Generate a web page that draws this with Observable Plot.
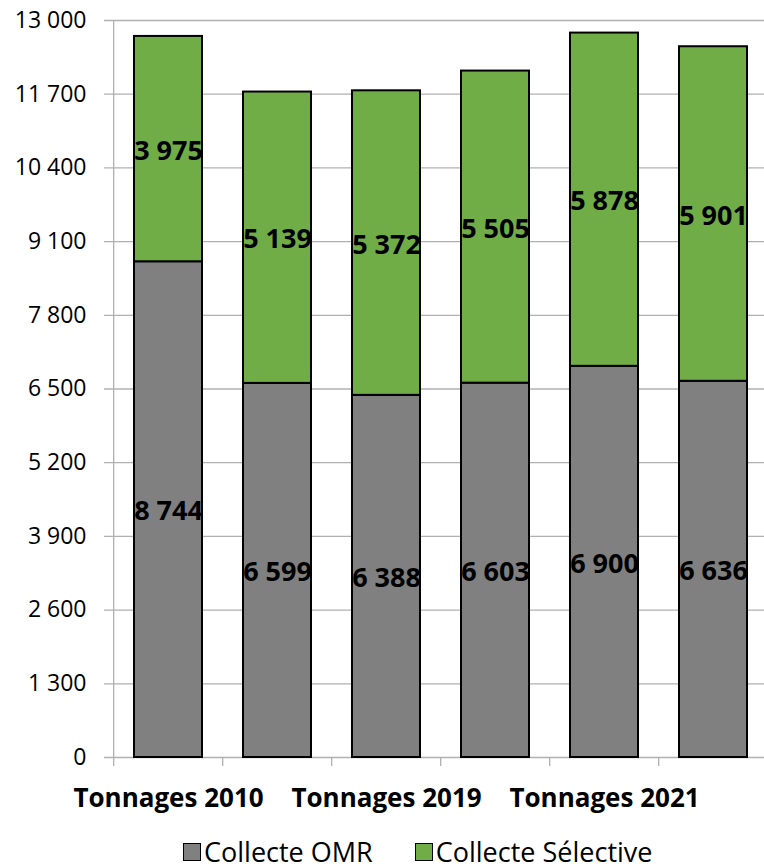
<!DOCTYPE html>
<html>
<head>
<meta charset="utf-8">
<script src="https://cdn.jsdelivr.net/npm/d3@7"></script>
<script src="https://cdn.jsdelivr.net/npm/@observablehq/plot@0.6"></script>
<style>
  html, body { margin: 0; padding: 0; background: #fff; }
  body { width: 764px; height: 868px; overflow: hidden; font-family: "Open Sans", sans-serif; }
  #legend { display: flex; justify-content: flex-start; padding-left: 183px; gap: 42px; margin-top: 18px; font-size: 27px; color: #000; line-height: 28px; }
  .item { display: flex; align-items: center; gap: 3px; }
  .sw { width: 16px; height: 16px; border: 1.5px solid #000; }
</style>
</head>
<body>
<div id="chart"></div>
<div id="legend"></div>
<script>
const categories = ["Tonnages 2010", "Tonnages 2018", "Tonnages 2019", "Tonnages 2020", "Tonnages 2021", "Tonnages 2022"];
const shownLabels = ["Tonnages 2010", "Tonnages 2019", "Tonnages 2021"];
const seriesNames = ["Collecte OMR", "Collecte Sélective"];
const seriesColors = ["#808080", "#70AD47"];
const omr = [8744, 6599, 6388, 6603, 6900, 6636];
const selective = [3975, 5139, 5372, 5505, 5878, 5901];
const yTicks = [0, 1300, 2600, 3900, 5200, 6500, 7800, 9100, 10400, 11700, 13000];

const data = [];
categories.forEach((c, i) => {
  data.push({cat: c, series: seriesNames[0], value: omr[i]});
  data.push({cat: c, series: seriesNames[1], value: selective[i]});
});

const fmt = d3.formatLocale({decimal: ",", thousands: " ", grouping: [3], currency: ["", ""]}).format(",d");

const x0 = 112, x1 = 770;
const bw = (x1 - x0) / categories.length;

const chart = Plot.plot({
  width: 764,
  height: 820,
  marginTop: 20,
  marginBottom: 63,
  marginLeft: 112,
  marginRight: 0,
  style: {fontFamily: "Open Sans, sans-serif", color: "#000", background: "#fff", overflow: "visible"},
  x: {domain: categories, range: [x0, x1], paddingInner: 0.375, paddingOuter: 0.1875, align: 0.5, axis: null, label: null},
  y: {domain: [0, 13000], axis: null, label: null},
  color: {domain: seriesNames, range: seriesColors},
  marks: [
    Plot.gridY(yTicks, {stroke: "#b0b0b0", strokeOpacity: 1, strokeWidth: 1.3, insetLeft: -8}),
    Plot.ruleX([0], {x: () => categories[0], dx: -bw / 2, stroke: "#b0b0b0", strokeWidth: 1.3}),
    Plot.ruleX(categories, {x: d => d, y1: 0, y2: 0, insetBottom: -9, dx: -bw / 2, stroke: "#b0b0b0", strokeWidth: 1.3}),
    Plot.axisY(yTicks, {tickSize: 0, tickPadding: 26, tickFormat: fmt, fontSize: 23, fill: "#000", label: null}),
    Plot.barY(data, Plot.stackY({x: "cat", y: "value", z: "series", fill: "series", stroke: "#000", strokeWidth: 2})),
    Plot.text(data, Plot.stackY({x: "cat", y: "value", z: "series", text: d => fmt(d.value), fontSize: 27, fontWeight: "bold", fill: "#000", dy: 2})),
    Plot.axisX(shownLabels, {tickSize: 0, tickPadding: 31, fontSize: 26, fontWeight: "bold", fill: "#000", label: null})
  ]
});
document.getElementById("chart").appendChild(chart);

const legend = document.getElementById("legend");
seriesNames.forEach((s, i) => {
  const it = document.createElement("div");
  it.className = "item";
  const sw = document.createElement("div");
  sw.className = "sw";
  sw.style.background = seriesColors[i];
  const t = document.createElement("span");
  t.textContent = s;
  it.appendChild(sw); it.appendChild(t);
  legend.appendChild(it);
});
</script>
</body>
</html>
